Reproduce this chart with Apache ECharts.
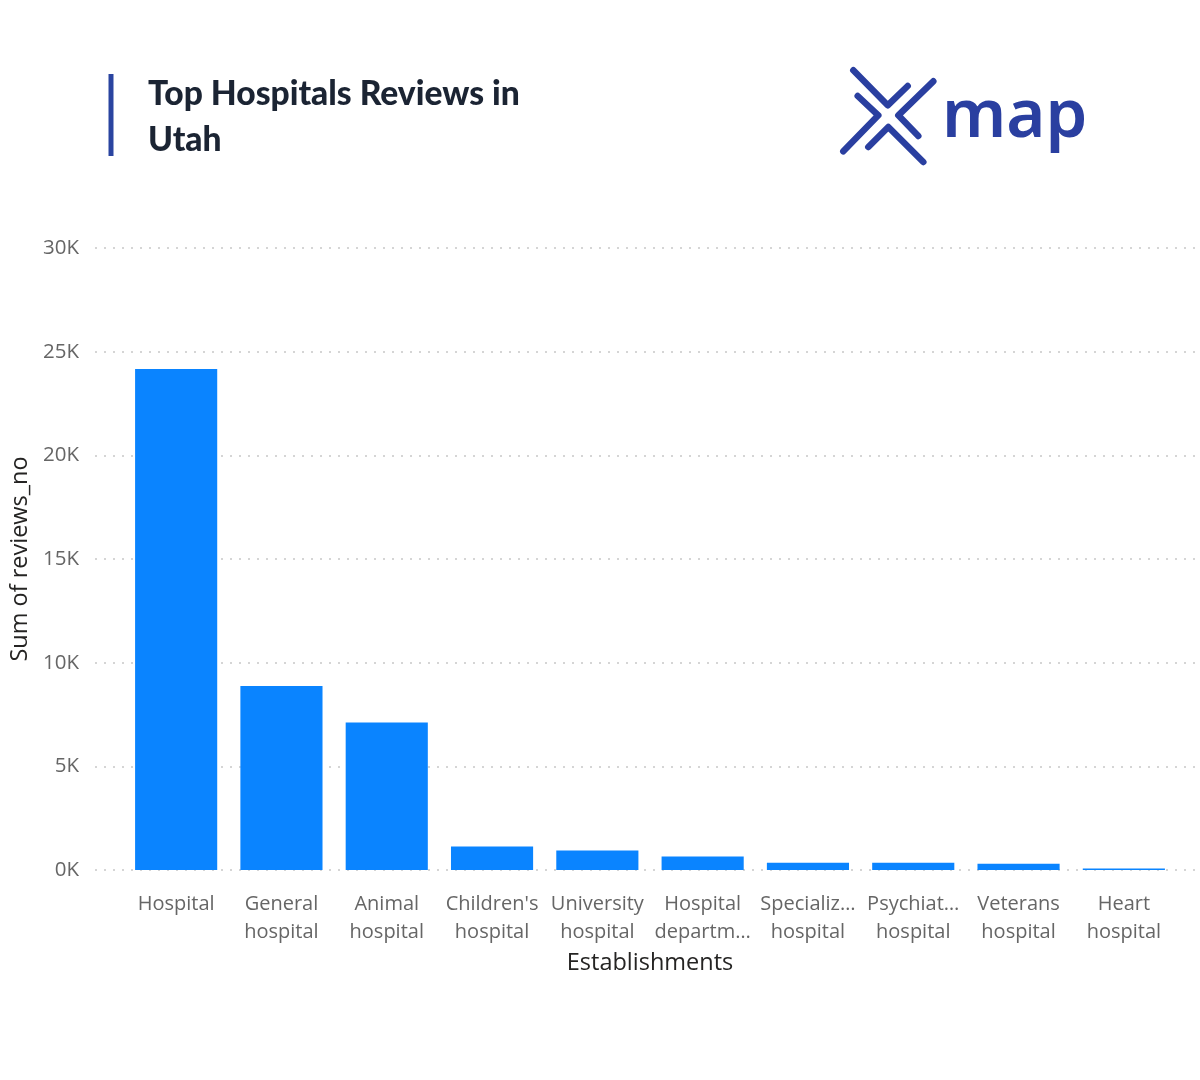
<!DOCTYPE html>
<html>
<head>
<meta charset="utf-8">
<style>
html,body{margin:0;padding:0;background:#ffffff;}
#chart{width:1200px;height:1080px;}
</style>
<script src="https://cdn.jsdelivr.net/npm/echarts@6/dist/echarts.min.js"></script>
</head>
<body>
<div id="chart"></div>
<script>
const categories = ["Hospital", "General\nhospital", "Animal\nhospital", "Children's\nhospital", "University\nhospital", "Hospital\ndepartm…", "Specializ…\nhospital", "Psychiat…\nhospital", "Veterans\nhospital", "Heart\nhospital"];
const reviews = [24160, 8870, 7120, 1130, 940, 650, 350, 350, 300, 70];
const yTicks = [0, 5000, 10000, 15000, 20000, 25000, 30000];
const titleText = "Top Hospitals Reviews in\nUtah";
const xName = "Establishments";
const yName = "Sum of reviews_no";
const logoText = "map";

const chart = echarts.init(document.getElementById('chart'), null, {renderer: 'canvas'});
const yMin = yTicks[0], yMax = yTicks[yTicks.length - 1], yStep = yTicks[1] - yTicks[0];
const logoBlue = '#2a3fa0';

chart.setOption({
  backgroundColor: '#ffffff',
  animation: false,
  title: {
    text: titleText,
    left: 148, top: 71, padding: 0,
    textStyle: {fontFamily: 'Lato', fontWeight: 900, fontSize: 33.6, lineHeight: 46, color: '#1b2433'}
  },
  grid: [
    {left: 90, right: 5, top: 248, bottom: 210},
    {left: 123.5, right: 23.5, top: 248, bottom: 210}
  ],
  xAxis: [
    {gridIndex: 0, type: 'category', data: categories, show: false},
    {gridIndex: 1, type: 'category', data: categories,
     axisLine: {show: false}, axisTick: {show: false},
     axisLabel: {interval: 0, margin: 20, fontFamily: 'Open Sans', fontSize: 20, lineHeight: 28, color: '#666666'},
     name: xName, nameLocation: 'middle', nameGap: 78,
     nameTextStyle: {fontFamily: 'Open Sans', fontSize: 23.5, color: '#252423'}}
  ],
  yAxis: [
    {gridIndex: 0, type: 'value', min: yMin, max: yMax, interval: yStep,
     axisLine: {show: false}, axisTick: {show: false},
     axisLabel: {margin: 16, fontFamily: 'Open Sans', fontSize: 20.5, color: '#666666',
       formatter: v => (v / 1000) + 'K'},
     splitLine: {show: true, lineStyle: {type: [2, 7], color: '#c8c8c8', width: 1.5}},
     name: yName, nameLocation: 'middle', nameGap: 63,
     nameTextStyle: {fontFamily: 'Open Sans', fontSize: 23.5, color: '#252423'}},
    {gridIndex: 1, type: 'value', min: yMin, max: yMax, interval: yStep, show: false, splitLine: {show: false}}
  ],
  series: [{
    type: 'bar', xAxisIndex: 1, yAxisIndex: 1,
    data: reviews, barCategoryGap: '22%',
    itemStyle: {color: '#0a84ff'}
  }],
  graphic: [
    {type: 'rect', shape: {x: 108.5, y: 74, width: 5, height: 82}, style: {fill: '#2a44a0'}},
    {type: 'polyline', shape: {points: [[853.3,70.3],[887.7,105.3],[907.7,86]]}, style: {stroke: logoBlue, lineWidth: 6.5, lineCap: 'round', lineJoin: 'round', fill: null}},
    {type: 'polyline', shape: {points: [[857.7,96],[878.3,115.3],[843.3,151.3]]}, style: {stroke: logoBlue, lineWidth: 6.5, lineCap: 'round', lineJoin: 'round', fill: null}},
    {type: 'polyline', shape: {points: [[933.3,81.3],[898.3,115.3],[918.3,136]]}, style: {stroke: logoBlue, lineWidth: 6.5, lineCap: 'round', lineJoin: 'round', fill: null}},
    {type: 'polyline', shape: {points: [[868.3,147],[888.3,127],[923.3,162]]}, style: {stroke: logoBlue, lineWidth: 6.5, lineCap: 'round', lineJoin: 'round', fill: null}},
    {type: 'text', x: 942, y: 118, style: {text: logoText, fill: logoBlue, fontFamily: 'Noto Sans', fontWeight: 600, fontSize: 67, verticalAlign: 'middle', align: 'left'}}
  ]
});
</script>
</body>
</html>
